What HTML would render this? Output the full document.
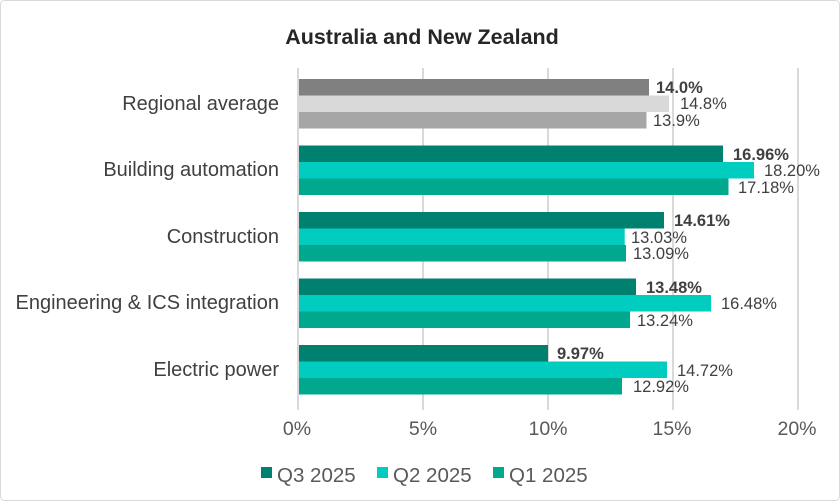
<!DOCTYPE html>
<html><head><meta charset="utf-8"><style>
body{margin:0;background:#fff;}
svg{display:block;font-family:"Liberation Sans",sans-serif;}
</style></head><body>
<svg width="840" height="501" viewBox="0 0 840 501">
<rect x="0.5" y="0.5" width="839" height="500" rx="4" fill="#fff" stroke="#d9d9d9"/>
<text x="422" y="44" text-anchor="middle" font-size="21.5" font-weight="bold" fill="#262626">Australia and New Zealand</text>
<g stroke="#d9d9d9" stroke-width="2">
<line x1="298" y1="68" x2="298" y2="410"/><line x1="423" y1="68" x2="423" y2="410"/>
<line x1="548" y1="68" x2="548" y2="410"/><line x1="673" y1="68" x2="673" y2="410"/>
<line x1="798" y1="68" x2="798" y2="410"/>
</g>
<g font-size="20" fill="#404040" text-anchor="end">
<text x="279" y="110">Regional average</text>
<text x="279" y="176">Building automation</text>
<text x="279" y="243">Construction</text>
<text x="279" y="309">Engineering &amp; ICS integration</text>
<text x="279" y="376">Electric power</text>
</g>
<g>
<rect x="299" y="79" width="350" height="16.5" fill="#808080"/>
<rect x="299" y="95.5" width="370" height="16.5" fill="#d9d9d9"/>
<rect x="299" y="112" width="347.5" height="16.5" fill="#a6a6a6"/>

<rect x="299" y="145.5" width="424" height="16.5" fill="#008170"/>
<rect x="299" y="162" width="455" height="16.5" fill="#00ccc0"/>
<rect x="299" y="178.5" width="429.5" height="16.5" fill="#00a88e"/>

<rect x="299" y="212" width="365" height="16.5" fill="#008170"/>
<rect x="299" y="228.5" width="325.7" height="16.5" fill="#00ccc0"/>
<rect x="299" y="245" width="327" height="16.5" fill="#00a88e"/>

<rect x="299" y="278.5" width="337" height="16.5" fill="#008170"/>
<rect x="299" y="295" width="412" height="16.5" fill="#00ccc0"/>
<rect x="299" y="311.5" width="331" height="16.5" fill="#00a88e"/>

<rect x="299" y="345" width="249" height="16.5" fill="#008170"/>
<rect x="299" y="361.5" width="368" height="16.5" fill="#00ccc0"/>
<rect x="299" y="378" width="323" height="16.5" fill="#00a88e"/>
</g>
<g font-size="16.5" fill="#404040">
<text x="656" y="93" font-weight="bold">14.0%</text>
<text x="680" y="109">14.8%</text>
<text x="653" y="126">13.9%</text>
<text x="733" y="160" font-weight="bold">16.96%</text>
<text x="764" y="176">18.20%</text>
<text x="738" y="193">17.18%</text>
<text x="674" y="226" font-weight="bold">14.61%</text>
<text x="631" y="243">13.03%</text>
<text x="633" y="259">13.09%</text>
<text x="646" y="293" font-weight="bold">13.48%</text>
<text x="721" y="309">16.48%</text>
<text x="637" y="326">13.24%</text>
<text x="557" y="359" font-weight="bold">9.97%</text>
<text x="677" y="376">14.72%</text>
<text x="633" y="392">12.92%</text>
</g>
<g font-size="19.5" fill="#595959" text-anchor="middle">
<text x="297" y="435">0%</text><text x="423" y="435">5%</text>
<text x="548" y="435">10%</text><text x="672" y="435">15%</text>
<text x="797" y="435">20%</text>
</g>
<g font-size="20.5" fill="#595959">
<rect x="261" y="467" width="11" height="11" fill="#008170"/><text x="277" y="482">Q3 2025</text>
<rect x="377" y="467" width="11" height="11" fill="#00ccc0"/><text x="393" y="482">Q2 2025</text>
<rect x="493" y="467" width="11" height="11" fill="#00a88e"/><text x="509" y="482">Q1 2025</text>
</g>
</svg>
</body></html>
